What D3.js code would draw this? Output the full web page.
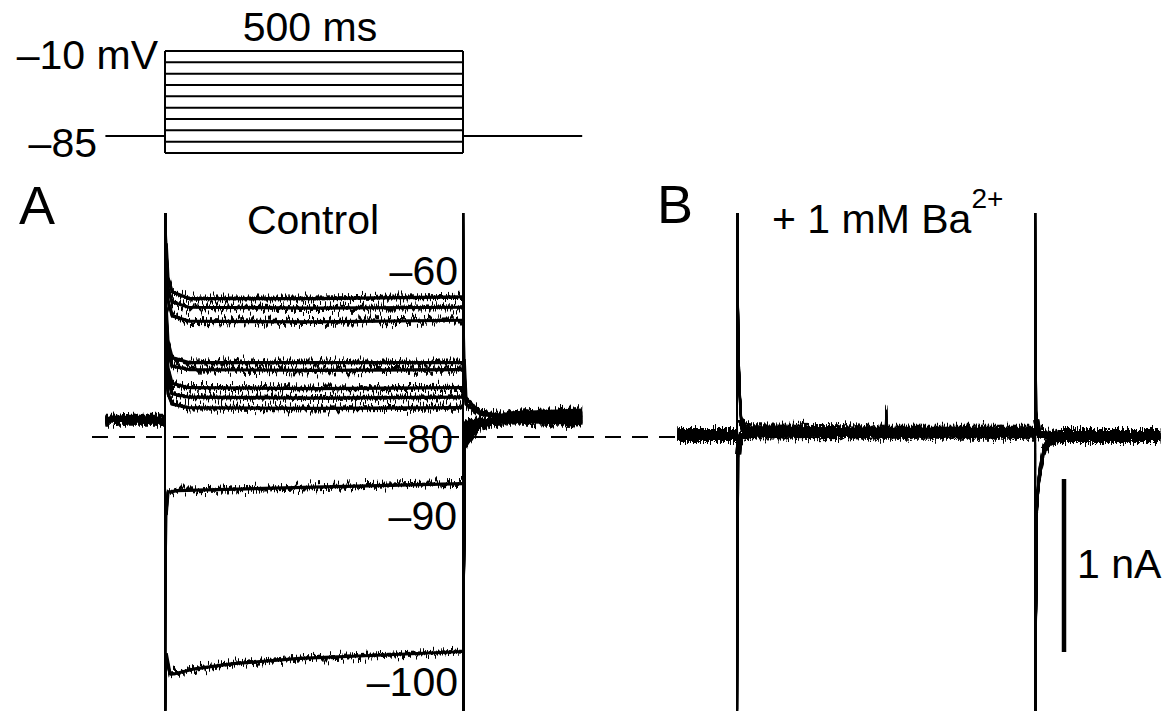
<!DOCTYPE html>
<html>
<head>
<meta charset="utf-8">
<script src="https://cdn.jsdelivr.net/npm/d3@7"></script>
<style>
  html, body { margin: 0; padding: 0; background: #fff; }
  svg { display: block; font-family: "Liberation Sans", Arial, Helvetica, sans-serif; }
</style>
</head>
<body>
<svg id="fig" width="1173" height="711"></svg>
<script>
// ---- Voltage-clamp protocol ----
const stepLevels = [-10, -20, -30, -40, -50, -60, -70, -80, -90, -100]; // mV
const holdingPotential = -85;                                           // mV
const stepWindow = [0, 500];                                            // ms
const sweepWindow = [-100, 700];                                        // ms

// ---- Control sweeps: [time (ms), current (nA)], zero = dashed reference ----
const control_m60 = [[-100, 0.10], [0, 0.10], [0, 1.5], [2, 1.12], [5, 0.92], [12, 0.84], [40, 0.80], [250, 0.80], [500, 0.81],
  [500, -1.8], [503, -0.06], [530, 0.08], [580, 0.14], [700, 0.155]];
const control_m50 = [[-100, 0.10], [0, 0.10], [0, 1.5], [2, 1.05], [5, 0.86], [12, 0.78], [40, 0.75], [250, 0.745], [500, 0.75],
  [500, -1.8], [503, -0.04], [530, 0.07], [580, 0.12], [700, 0.145]];
const control_m40 = [[-100, 0.10], [0, 0.10], [0, 1.5], [2, 0.98], [5, 0.79], [12, 0.70], [40, 0.67], [250, 0.665], [500, 0.675],
  [500, -1.8], [503, -0.02], [530, 0.07], [580, 0.11], [700, 0.13]];
const control_m70 = [[-100, 0.10], [0, 0.10], [0, 1.5], [2, 0.75], [5, 0.55], [12, 0.46], [40, 0.43], [250, 0.43], [500, 0.43],
  [500, -1.8], [503, 0.01], [530, 0.08], [580, 0.11], [700, 0.12]];
const control_m30 = [[-100, 0.10], [0, 0.10], [0, 1.5], [2, 0.70], [5, 0.50], [12, 0.41], [40, 0.39], [250, 0.385], [500, 0.39],
  [500, -1.8], [503, 0.03], [530, 0.08], [580, 0.105], [700, 0.11]];
const control_m20 = [[-100, 0.10], [0, 0.10], [0, 1.5], [2, 0.62], [5, 0.40], [12, 0.31], [40, 0.285], [250, 0.28], [500, 0.285],
  [500, -1.8], [503, 0.05], [530, 0.085], [580, 0.10], [700, 0.10]];
const control_m10 = [[-100, 0.10], [0, 0.10], [0, 1.5], [2, 0.56], [5, 0.34], [12, 0.25], [40, 0.23], [250, 0.225], [500, 0.23],
  [500, -1.8], [503, 0.07], [530, 0.09], [580, 0.095], [700, 0.09]];
const control_m80 = [[-100, 0.10], [0, 0.10], [0, 1.5], [2, 0.40], [5, 0.25], [12, 0.19], [40, 0.17], [250, 0.165], [500, 0.17],
  [500, -1.8], [503, 0.085], [530, 0.09], [580, 0.09], [700, 0.08]];
const control_m90 = [[-100, 0.10], [0, 0.10], [0, -1.8], [2, -0.45], [5, -0.32], [20, -0.31], [250, -0.29], [500, -0.27],
  [500, 1.5], [502, 0.35], [505, 0.19], [530, 0.13], [580, 0.11], [700, 0.105]];
const control_m100 = [[-100, 0.10], [0, 0.10], [0, -1.8], [2, -1.25], [8, -1.36], [15, -1.37], [50, -1.34], [114, -1.31],
  [226, -1.28], [366, -1.26], [500, -1.24], [500, 1.5], [502, 0.45], [505, 0.22], [530, 0.14], [580, 0.12], [700, 0.115]];
const controlSweeps = [control_m60, control_m50, control_m40, control_m70, control_m30,
  control_m20, control_m10, control_m80, control_m90, control_m100];

// ---- Sweeps in 1 mM Ba2+ ----
const barium_depolarizing = [[-100, 0.012], [0, 0.012], [0, 1.5], [2, 0.6], [4, 0.3], [7, 0.1], [12, 0.04], [250, 0.03],
  [500, 0.03], [500, -1.8], [503, -0.4], [507, -0.22], [515, -0.07], [525, -0.02], [540, 0.006], [710, 0.006]];
const barium_hyperpolarizing = [[-100, 0.012], [0, 0.012], [0, -1.8], [2, -0.10], [5, 0.0], [20, 0.02], [250, 0.025],
  [500, 0.025], [500, 1.5], [502, 0.10], [506, 0.02], [540, 0.006], [710, 0.006]];
const barium_artifact = [[-100, 0.012], [0, 0.012], [0, 1.5], [2, 0.6], [4, 0.3], [7, 0.1], [12, 0.04], [249.5, 0.03],
  [250.5, 0.17], [251.5, 0.03], [500, 0.03], [500, -1.8], [503, -0.4], [507, -0.22], [515, -0.07], [525, -0.02], [540, 0.006], [710, 0.006]];
const bariumSweeps = [barium_depolarizing, barium_depolarizing, barium_depolarizing, barium_artifact,
  barium_depolarizing, barium_depolarizing, barium_depolarizing, barium_depolarizing,
  barium_hyperpolarizing, barium_hyperpolarizing];

const scaleBarCurrent = 1; // nA

// ---- Layout ----
const W = 1173, H = 711;
const svg = d3.select('#fig');
const tA = d3.scaleLinear().domain(sweepWindow).range([105.4, 582.2]);
const tB = d3.scaleLinear().domain([-100, 710]).range([677.4, 1160.2]);
const iY = d3.scaleLinear().domain([0, 1]).range([437, 264]);
const vY = d3.scaleLinear().domain([-10, -100]).range([51, 153]);
const clipTop = iY.invert(213);    // largest current still inside the panel
const clipBottom = iY.invert(H);   // most negative current still inside

const defs = svg.append('defs');
defs.append('clipPath').attr('id', 'trace-clip')
  .append('rect').attr('x', 0).attr('y', 213).attr('width', W).attr('height', H - 213);

// Recording noise: vertical jitter of the drawn sweep, thickened by
// merging copies shifted up and down so the jitter reads as a dense band
function noiseFilter(id, seed, scale, spread, freq) {
  const f = defs.append('filter').attr('id', id)
    .attr('filterUnits', 'userSpaceOnUse')
    .attr('x', 0).attr('y', 0).attr('width', W).attr('height', H)
    .attr('color-interpolation-filters', 'sRGB');
  f.append('feTurbulence').attr('type', 'fractalNoise')
    .attr('baseFrequency', `${freq} 0.02`).attr('numOctaves', 2)
    .attr('seed', seed).attr('result', 'n');
  f.append('feColorMatrix').attr('in', 'n').attr('type', 'matrix')
    .attr('values', '0 0 0 0 0.5  0 1 0 0 0  0 0 0 0 0  0 0 0 0 1')
    .attr('result', 'g');
  f.append('feDisplacementMap').attr('in', 'SourceGraphic').attr('in2', 'g')
    .attr('scale', scale).attr('xChannelSelector', 'R').attr('yChannelSelector', 'G')
    .attr('result', 'd');
  f.append('feOffset').attr('in', 'd').attr('dx', 0).attr('dy', spread).attr('result', 'dn');
  f.append('feOffset').attr('in', 'd').attr('dx', 0).attr('dy', -spread).attr('result', 'up');
  const m = f.append('feMerge');
  ['d', 'dn', 'up'].forEach(k => m.append('feMergeNode').attr('in', k));
}

// ---- Protocol ----
const proto = svg.append('g').attr('fill', 'none').attr('stroke', '#000').attr('stroke-width', 2);
proto.selectAll('line.step').data(stepLevels).join('line')
  .attr('x1', tA(stepWindow[0])).attr('x2', tA(stepWindow[1]))
  .attr('y1', d => vY(d)).attr('y2', d => vY(d));
stepWindow.forEach(t => {
  proto.append('line').attr('x1', tA(t)).attr('x2', tA(t))
    .attr('y1', vY(d3.max(stepLevels))).attr('y2', vY(d3.min(stepLevels)));
});
[[sweepWindow[0], stepWindow[0]], [stepWindow[1], sweepWindow[1]]].forEach(([a, b]) => {
  proto.append('line').attr('x1', tA(a)).attr('x2', tA(b))
    .attr('y1', vY(holdingPotential)).attr('y2', vY(holdingPotential));
});

// ---- Zero-current reference ----
svg.append('line').attr('x1', 92).attr('x2', 1168).attr('y1', iY(0)).attr('y2', iY(0))
  .attr('stroke', '#000').attr('stroke-width', 2.2).attr('stroke-dasharray', '16 11');

// ---- Sweeps ----
// Each sweep: a solid core (fast transients left out) under a noisy copy
// that also carries the clipped spikes at step on/off.
function drawSweeps(sweeps, xScale, seedBase, scale, spread, freq, width, core, coreRange) {
  const line = d3.line().x(d => xScale(d[0])).y(d => iY(d[1]));
  const coreLine = d3.line().x(d => xScale(d[0])).y(d => iY(d[1]))
    .defined(d => d[1] > coreRange[0] && d[1] < coreRange[1]);
  const g = svg.append('g').attr('clip-path', 'url(#trace-clip)');
  sweeps.forEach(s => {
    g.append('path').attr('d', coreLine(s)).attr('fill', 'none')
      .attr('stroke', '#000').attr('stroke-width', core)
      .attr('stroke-linejoin', 'round');
  });
  sweeps.forEach((s, i) => {
    const id = `noise-${seedBase + i}`;
    noiseFilter(id, seedBase + i, scale, spread, freq);
    g.append('path').attr('d', line(s)).attr('fill', 'none')
      .attr('stroke', '#000').attr('stroke-width', width)
      .attr('stroke-linejoin', 'round')
      .attr('filter', `url(#${id})`);
  });
}
drawSweeps(controlSweeps, tA, 1, 20, 1, 0.6, 2.0, 3.2, [clipBottom, clipTop]);
drawSweeps(bariumSweeps, tB, 21, 26, 1.5, 0.6, 2.0, 6, [-0.12, 0.12]);

// ---- Scale bar ----
const barTop = -0.243;
svg.append('line').attr('x1', 1064).attr('x2', 1064)
  .attr('y1', iY(barTop)).attr('y2', iY(barTop - scaleBarCurrent))
  .attr('stroke', '#000').attr('stroke-width', 4.5);

// ---- Text ----
function label(x, y, txt, size, anchor) {
  return svg.append('text').attr('x', x).attr('y', y).attr('font-size', size)
    .attr('text-anchor', anchor || 'start').attr('fill', '#000').text(txt);
}
label(310, 41, '500 ms', 41, 'middle');
label(158, 69, '–10 mV', 41, 'end');
label(97, 157, '–85', 41, 'end');
label(19, 224, 'A', 54);
label(313, 234, 'Control', 41, 'middle');
label(657, 223, 'B', 54);
const ba = label(772, 233, '+ 1 mM Ba', 41);
ba.append('tspan').attr('dy', -25).attr('font-size', 28).text('2+');
label(458, 285, '–60', 41, 'end');
label(453, 453, '–80', 41, 'end');
label(457, 530, '–90', 41, 'end');
label(458, 696, '–100', 41, 'end');
label(1077, 578, `${scaleBarCurrent} nA`, 41);
</script>
</body>
</html>
